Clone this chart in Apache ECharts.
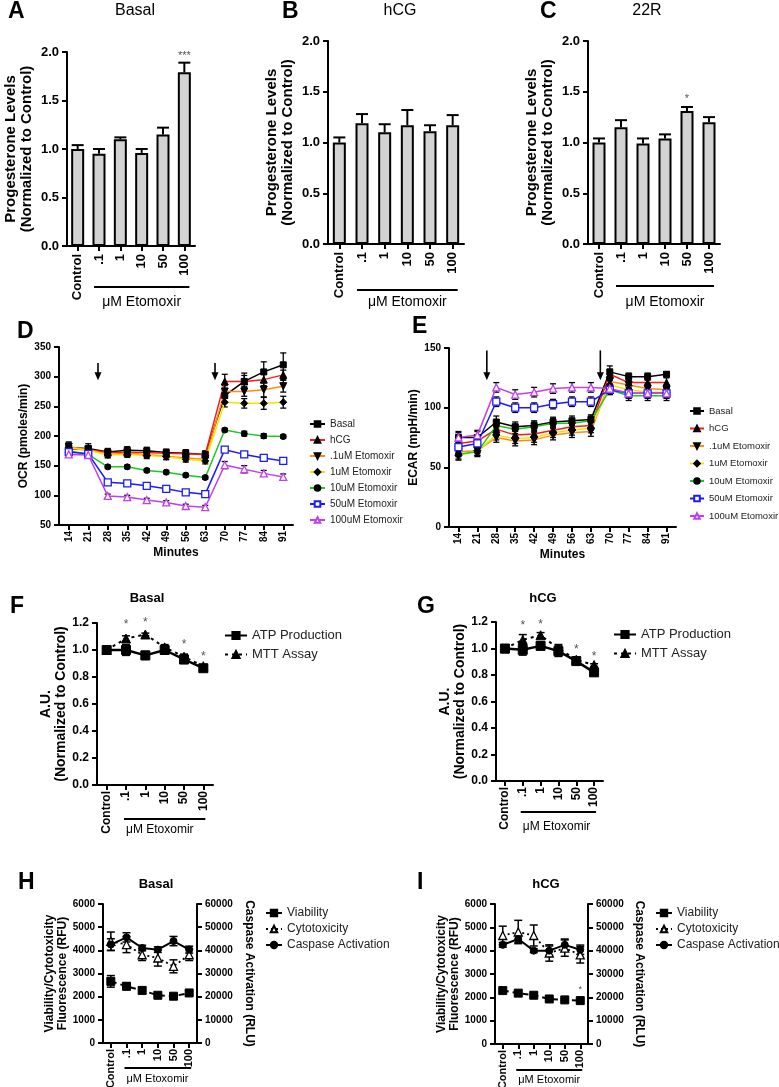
<!DOCTYPE html>
<html><head><meta charset="utf-8">
<script src="https://cdn.jsdelivr.net/npm/echarts@6/dist/echarts.min.js"></script>
<style>html,body{margin:0;padding:0;background:#fff}#c{width:779px;height:1087px}</style>
</head><body><div id="c"></div>
<script>
// ---------------- DATA ----------------
const doseCats = ['Control', '.1', '1', '10', '50', '100'];
const minutes = ['14','21','28','35','42','49','56','63','70','77','84','91'];

// Panels A-C: progesterone (normalized)
const basalProg    = [1.00, 0.95, 1.10, 0.96, 1.15, 1.79];
const basalProgErr = [0.04, 0.05, 0.02, 0.04, 0.07, 0.10];
const hcgProg      = [1.00, 1.19, 1.10, 1.17, 1.11, 1.17];
const hcgProgErr   = [0.05, 0.09, 0.08, 0.15, 0.06, 0.10];
const r22Prog      = [1.00, 1.15, 0.99, 1.04, 1.31, 1.20];
const r22ProgErr   = [0.04, 0.07, 0.05, 0.04, 0.04, 0.05];
const basalProgStars = [[5, 1.96]]; const basalProgStarText = ['***'];
const r22ProgStars   = [[4, 1.43]]; const r22ProgStarText   = ['*'];

// Panel D: OCR
const legendNames = ['Basal','hCG','.1uM Etomoxir','1uM Etomoxir','10uM Etomoxir','50uM Etomoxir','100uM Etomoxir'];
const ocrBasal = [180,179,173,176,175,172,171,169,268,292,308,320];
const ocrHcg   = [178,177,172,172,172,171,170,169,292,292,295,303];
const ocr01    = [182,177,169,171,169,166,163,161,275,275,278,284];
const ocr1     = [180,176,168,169,167,165,161,158,257,255,255,257];
const ocr10    = [175,169,148,148,142,139,134,130,210,204,200,199];
const ocr50    = [173,170,122,120,116,111,105,102,177,169,163,158];
const ocr100   = [169,168,99,97,92,88,82,80,151,144,137,131];
const ocrBasalErr = [10,8,6,6,6,6,6,6,12,14,17,20];
const ocrHcgErr   = [8,6,5,5,5,5,5,5,12,10,10,8];
const ocr01Err    = [6,5,5,5,5,5,5,5,10,8,12,10];
const ocr1Err     = [6,5,5,5,5,5,5,5,8,8,10,10];
const ocr10Err    = [5,4,3,3,3,3,3,3,3,4,4,3];
const ocr50Err    = [4,4,4,4,4,4,4,4,4,4,4,4];
const ocr100Err   = [3,3,3,3,3,3,3,3,6,6,5,5];
const ocrArrows = [[1, 323, 294], [7, 323, 294]];

// Panel E: ECAR
const ecarBasal = [75,75,88,84,85,88,89,90,130,126,126,128];
const ecarHcg   = [70,72,82,77,78,81,84,85,128,121,121,121];
const ecar01    = [63,64,75,72,73,77,79,80,122,119,116,115];
const ecar1     = [60,64,77,74,75,79,81,83,119,115,113,113];
const ecar10    = [61,63,85,82,84,87,87,89,115,110,110,110];
const ecar50    = [67,70,105,100,100,103,105,105,115,112,112,112];
const ecar100   = [75,77,117,111,113,116,117,117,116,112,112,112];
const ecarBasalErr = [5,5,5,4,4,4,4,4,5,3,3,2];
const ecarOtherErr = [4,4,4,4,4,4,4,4,4,4,4,4];
const ecarArrows = [[1, 148, 123], [7, 148, 123]];

// Panels F-G: ATP / MTT
const atpBasal    = [1.00, 1.00, 0.96, 1.00, 0.93, 0.865];
const atpBasalErr = [0, 0.04, 0.03, 0.02, 0.03, 0.01];
const mttBasal    = [1.00, 1.085, 1.115, 1.02, 0.95, 0.88];
const mttBasalErr = [0, 0.02, 0.01, 0.02, 0.02, 0.01];
const fStars = [[1, 1.19], [2, 1.20], [4, 1.04], [5, 0.95]];
const atpHcg      = [1.00, 0.99, 1.02, 0.98, 0.905, 0.82];
const atpHcgErr   = [0, 0.04, 0.03, 0.04, 0.02, 0.02];
const mttHcg      = [1.00, 1.065, 1.10, 1.00, 0.915, 0.875];
const mttHcgErr   = [0, 0.04, 0.02, 0.03, 0.02, 0.01];
const gStars = [[1, 1.17], [2, 1.18], [4, 0.99], [5, 0.94]];

// Panels H-I: viability / cytotoxicity (RFU), caspase (RLU)
const viabBasal = [2660, 2450, 2270, 2060, 2020, 2160];
const viabBasalErr = [250, 150, 130, 60, 50, 80];
const cytoBasal = [4390, 4250, 3810, 3670, 3310, 3810];
const cytoBasalErr = [400, 350, 250, 350, 280, 250];
const caspBasal = [42500, 45600, 41000, 40300, 44000, 40300];
const caspBasalErr = [2500, 2000, 1200, 1200, 2000, 1500];
const viabHcg = [2290, 2180, 2090, 1930, 1890, 1860];
const viabHcgErr = [80, 60, 50, 50, 40, 40];
const cytoHcg = [4650, 4800, 4650, 3900, 4110, 3820];
const cytoHcgErr = [400, 500, 450, 350, 350, 350];
const caspHcg = [42500, 45000, 40000, 40000, 42500, 40400];
const caspHcgErr = [1000, 1500, 800, 2000, 2500, 2000];
const iStars = [[5, 2350]];

// ---------------- BUILD ----------------
const FONT = "'Liberation Sans', Arial, sans-serif";
const NARROW = "'Liberation Sans Narrow', 'Liberation Sans', Arial, sans-serif";
const option = {animation:false, backgroundColor:'#fff', grid:[], xAxis:[], yAxis:[], series:[], legend:[]};

function addGrid(r){ option.grid.push(Object.assign({containLabel:false, outerBoundsMode:'none'}, r)); return option.grid.length-1; }
function lineAxis(lw){ return {show:true, onZero:false, lineStyle:{color:'#000', width:lw}}; }
function tickAxis(lw, len){ return {show:true, length:len||5, alignWithLabel:true, lineStyle:{color:'#000', width:lw}}; }

function catX(gi, cats, fs, family, lw, margin, extra){
  option.xAxis.push(Object.assign({type:'category', gridIndex:gi, data:cats, boundaryGap:true,
    axisLine:lineAxis(lw), axisTick:tickAxis(lw), splitLine:{show:false},
    axisLabel:{rotate:90, interval:0, color:'#000', fontFamily:family, fontSize:fs, fontWeight:'bold', margin:margin}}, extra||{}));
  return option.xAxis.length-1;
}
function valY(gi, min, max, interval, fs, family, lw, name, nameGap, nameFs, fmt, extra){
  option.yAxis.push(Object.assign({type:'value', gridIndex:gi, min:min, max:max, interval:interval,
    axisLine:lineAxis(lw), axisTick:tickAxis(lw), splitLine:{show:false},
    axisLabel:{color:'#000', fontFamily:family, fontSize:fs, fontWeight:'bold', margin:8, formatter:fmt},
    name:name, nameLocation:'middle', nameRotate:90, nameGap:nameGap,
    nameTextStyle:{color:'#000', fontFamily:FONT, fontWeight:'bold', fontSize:nameFs, lineHeight:nameFs+1}}, extra||{}));
  return option.yAxis.length-1;
}
function errSeries(xi, yi, vals, errs, upperOnly, cap, lw, color){
  const data = [];
  vals.forEach((v,i)=>{ if (errs[i] > 0) data.push([i, upperOnly ? v : v-errs[i], v+errs[i]]); });
  return {type:'custom', xAxisIndex:xi, yAxisIndex:yi, silent:true, z:upperOnly?3:1, data:data, encode:{x:0, y:[1,2]},
    renderItem:function(params, api){
      const i = api.value(0);
      const p1 = api.coord([i, api.value(1)]);
      const p2 = api.coord([i, api.value(2)]);
      const ch = [
        {type:'line', shape:{x1:p1[0], y1:p1[1], x2:p2[0], y2:p2[1]}, style:{stroke:color, lineWidth:lw}},
        {type:'line', shape:{x1:p2[0]-cap, y1:p2[1], x2:p2[0]+cap, y2:p2[1]}, style:{stroke:color, lineWidth:lw}}
      ];
      if (!upperOnly) ch.push({type:'line', shape:{x1:p1[0]-cap, y1:p1[1], x2:p1[0]+cap, y2:p1[1]}, style:{stroke:color, lineWidth:lw}});
      return {type:'group', children:ch};
    }};
}
function starSeries(xi, yi, pts, texts, fs){
  return {type:'custom', xAxisIndex:xi, yAxisIndex:yi, silent:true, z:5, data:pts,
    renderItem:function(params, api){
      const p = api.coord([api.value(0), api.value(1)]);
      return {type:'text', x:p[0], y:p[1], style:{text:texts[params.dataIndex], fill:'#555', align:'center', verticalAlign:'middle', font:fs+'px '+FONT}};
    }};
}
function arrowSeries(xi, yi, arrows){
  return {type:'custom', xAxisIndex:xi, yAxisIndex:yi, silent:true, z:5, data:arrows,
    renderItem:function(params, api){
      const i = api.value(0);
      const a = api.coord([i, api.value(1)]);
      const b = api.coord([i+1, api.value(1)]);
      const t = api.coord([i, api.value(2)]);
      const x = (a[0]+b[0])/2, y1 = a[1], y2 = t[1];
      return {type:'group', children:[
        {type:'line', shape:{x1:x, y1:y1, x2:x, y2:y2-6}, style:{stroke:'#000', lineWidth:1.6}},
        {type:'polygon', shape:{points:[[x-3.5, y2-8],[x+3.5, y2-8],[x, y2]]}, style:{fill:'#000'}}
      ]};
    }};
}
function lineSeries(name, xi, yi, vals, o){
  return {type:'line', name:name, xAxisIndex:xi, yAxisIndex:yi, data:vals, z:3, silent:true,
    symbol:o.symbol, symbolSize:o.size, showSymbol:true,
    itemStyle:{color:o.fill, borderColor:o.border||o.fill, borderWidth:o.bw||1},
    lineStyle:{color:o.line, width:o.lw, type:o.type||'solid'}};
}

// ----- Bar panels A, B, C -----
function barPanel(rect, vals, errs, nameGap){
  const gi = addGrid(rect);
  const xi = catX(gi, doseCats, 13, FONT, 2, 8);
  const yi = valY(gi, 0, 2, 0.5, 13, FONT, 2, 'Progesterone Levels\n(Normalized to Control)', nameGap, 15, v=>v.toFixed(1));
  option.series.push({type:'bar', xAxisIndex:xi, yAxisIndex:yi, data:vals, barWidth:13, silent:true, z:2,
    itemStyle:{color:'#d3d3d3', borderColor:'#000', borderWidth:2}});
  option.series.push(errSeries(xi, yi, vals, errs, true, 6, 2, '#000'));
  return {xi, yi};
}
const pA = barPanel({left:67, top:52, width:128, height:194}, basalProg, basalProgErr, 32);
option.series.push(starSeries(pA.xi, pA.yi, basalProgStars, basalProgStarText, 11));
const pB = barPanel({left:328, top:41, width:136, height:203}, hcgProg, hcgProgErr, 32);
const pC = barPanel({left:588, top:41, width:132, height:203}, r22Prog, r22ProgErr, 32);
option.series.push(starSeries(pC.xi, pC.yi, r22ProgStars, r22ProgStarText, 11));

// ----- D / E seahorse panels -----
const seaStyles = [
  {symbol:'rect', size:6, fill:'#000', line:'#000', lw:1.5},
  {symbol:'triangle', size:7, fill:'#000', line:'#ff1a1a', lw:1.5},
  {symbol:'path://M0,0 L10,0 L5,9 Z', size:7, fill:'#000', line:'#ff8c1a', lw:1.5},
  {symbol:'diamond', size:7, fill:'#000', line:'#f5e400', lw:1.5},
  {symbol:'circle', size:6, fill:'#000', line:'#1ec81e', lw:1.5},
  {symbol:'rect', size:7, fill:'#fff', border:'#1a1aff', bw:1.3, line:'#1a1aff', lw:1.5},
  {symbol:'triangle', size:7, fill:'#fff', border:'#c040f0', bw:1.3, line:'#c040f0', lw:1.5}
];
function seaPanel(rect, series, errs, min, max, interval, yName, nameGap, arrows, legendPos, legendGap, legendFs, iconW){
  const gi = addGrid(rect);
  const xi = catX(gi, minutes, 10, NARROW, 2, 6, {name:'Minutes', nameLocation:'middle', nameGap:22,
    nameTextStyle:{color:'#000', fontFamily:NARROW, fontWeight:'bold', fontSize:12}});
  const yi = valY(gi, min, max, interval, 10, NARROW, 2, yName, nameGap, 12, v=>String(v));
  series.forEach((vals, k)=>{
    option.series.push(errSeries(xi, yi, vals, errs[k], false, 3, 1.3, '#000'));
    option.series.push(lineSeries(legendNames[k], xi, yi, vals, seaStyles[k]));
  });
  option.series.push(arrowSeries(xi, yi, arrows));
  option.legend.push({orient:'vertical', left:legendPos[0], top:legendPos[1], itemWidth:iconW, itemHeight:7, itemGap:legendGap,
    padding:0, selectedMode:false, textStyle:{fontFamily:FONT, fontSize:legendFs, color:'#222', padding:[0,0,0,0]}, data:legendNames});
  return {xi, yi};
}
seaPanel({left:59, top:347, width:234, height:178}, [ocrBasal, ocrHcg, ocr01, ocr1, ocr10, ocr50, ocr100],
  [ocrBasalErr, ocrHcgErr, ocr01Err, ocr1Err, ocr10Err, ocr50Err, ocr100Err], 50, 350, 50, 'OCR (pmoles/min)', 17, ocrArrows, [309, 419], 6, 10, 15);
seaPanel({left:449, top:348, width:227, height:179}, [ecarBasal, ecarHcg, ecar01, ecar1, ecar10, ecar50, ecar100],
  [ecarBasalErr, ecarOtherErr, ecarOtherErr, ecarOtherErr, ecarOtherErr, ecarOtherErr, ecarOtherErr], 0, 150, 50, 'ECAR (mpH/min)', 22, ecarArrows, [689, 406], 7.5, 9.5, 14);

// ----- F / G -----
function atpPanel(rect, atp, atpErr, mtt, mttErr, stars, nameGap, legendPos){
  const gi = addGrid(rect);
  const xi = catX(gi, doseCats, 12, FONT, 2, 6);
  const yi = valY(gi, 0, 1.2, 0.2, 12, FONT, 2, 'A.U.\n(Normalized to Control)', nameGap, 14, v=>v.toFixed(1));
  option.series.push(errSeries(xi, yi, mtt, mttErr, false, 4, 1.5, '#000'));
  option.series.push(errSeries(xi, yi, atp, atpErr, false, 4, 1.5, '#000'));
  option.series.push(lineSeries('MTT Assay', xi, yi, mtt, {symbol:'triangle', size:9, fill:'#000', line:'#000', lw:2, type:[3,4]}));
  option.series.push(lineSeries('ATP Production', xi, yi, atp, {symbol:'rect', size:9, fill:'#000', line:'#000', lw:2.5}));
  option.series.push(starSeries(xi, yi, stars, stars.map(()=>'*'), 12));
  option.legend.push({orient:'vertical', left:legendPos[0], top:legendPos[1], itemWidth:22, itemHeight:9, itemGap:6,
    selectedMode:false, textStyle:{fontFamily:FONT, fontSize:13, color:'#222'}, data:['ATP Production','MTT Assay']});
}
atpPanel({left:97, top:623, width:116, height:162}, atpBasal, atpBasalErr, mttBasal, mttBasalErr, fStars, 27, [219, 624]);
atpPanel({left:496, top:622, width:107, height:159}, atpHcg, atpHcgErr, mttHcg, mttHcgErr, gStars, 25, [608, 623]);

// ----- H / I -----
function cellPanel(rect, viab, viabErr, cyto, cytoErr, casp, caspErr, stars, nameGapL, nameGapR, legendPos){
  const gi = addGrid(rect);
  const xi = catX(gi, doseCats, 11, FONT, 2, 6);
  const yl = valY(gi, 0, 6000, 1000, 10, FONT, 2, 'Viability/Cytotoxicity\nFluorescence (RFU)', nameGapL, 12, v=>String(v));
  const yr = valY(gi, 0, 60000, 10000, 10, FONT, 2, 'Caspase Activation (RLU)', nameGapR, 12, v=>String(v), {position:'right', nameRotate:-90});
  option.series.push(errSeries(xi, yl, cyto, cytoErr, false, 4, 1.5, '#000'));
  option.series.push(errSeries(xi, yr, casp, caspErr, false, 4, 1.5, '#000'));
  option.series.push(errSeries(xi, yl, viab, viabErr, false, 4, 1.5, '#000'));
  option.series.push(lineSeries('Viability', xi, yl, viab, {symbol:'rect', size:8, fill:'#000', line:'#000', lw:2, type:[6,4]}));
  option.series.push(lineSeries('Cytotoxicity', xi, yl, cyto, {symbol:'triangle', size:8, fill:'#fff', border:'#000', bw:1.3, line:'#000', lw:1.8, type:[2,3]}));
  option.series.push(lineSeries('Caspase Activation', xi, yr, casp, {symbol:'circle', size:7, fill:'#000', line:'#000', lw:2}));
  if (stars) option.series.push(starSeries(xi, yl, stars, stars.map(()=>'*'), 9));
  option.legend.push({orient:'vertical', left:legendPos[0], top:legendPos[1], itemWidth:16, itemHeight:8, itemGap:4,
    padding:0, selectedMode:false, textStyle:{fontFamily:FONT, fontSize:12, color:'#222'}, data:['Viability','Cytotoxicity','Caspase Activation']});
}
cellPanel({left:103, top:904, width:94, height:139}, viabBasal, viabBasalErr, cytoBasal, cytoBasalErr, caspBasal, caspBasalErr, null, 31, 46, [265, 907]);
cellPanel({left:495, top:904, width:93, height:140}, viabHcg, viabHcgErr, cytoHcg, cytoHcgErr, caspHcg, caspHcgErr, iStars, 33, 45, [655, 907]);

const chart = echarts.init(document.getElementById('c'), null, {renderer:'canvas', width:779, height:1087});
chart.setOption(option);

// ----- annotations (letters, titles, dose underlines) -----
function txt(x, y, text, font, align){
  return {type:'text', x:x, y:y, silent:true, style:{text:text, font:font, fill:'#000', align:align||'center', verticalAlign:'middle'}};
}
const G = [];
const LET = 'bold 23px ' + FONT;
[['A',8,12],['B',282,12],['C',540,12],['D',17,332],['E',412,327],['F',10,607],['G',417,607],['H',18,883],['I',417,883]]
  .forEach(l=>G.push(txt(l[1], l[2], l[0], LET, 'left')));
G.push(txt(135, 11, 'Basal', '16px '+FONT));
G.push(txt(400, 11, 'hCG', '16px '+FONT));
G.push(txt(647, 11, '22R', '16px '+FONT));
G.push(txt(147, 598, 'Basal', 'bold 13px '+FONT));
G.push(txt(543, 598, 'hCG', 'bold 13px '+FONT));
G.push(txt(156, 884, 'Basal', 'bold 13px '+FONT));
G.push(txt(546, 884, 'hCG', 'bold 13px '+FONT));
function underline(xi, y, pad, label, ty, font, centered){
  const x1 = chart.convertToPixel({xAxisIndex:xi}, '.1') - pad;
  const x2 = chart.convertToPixel({xAxisIndex:xi}, '100') + pad;
  G.push({type:'line', silent:true, shape:{x1:x1, y1:y, x2:x2, y2:y}, style:{stroke:'#000', lineWidth:2}});
  G.push(centered ? txt((x1+x2)/2, ty, label, font) : txt(x1+2, ty, label, font, 'left'));
}
underline(pA.xi, 287, 5, 'μM Etomoxir', 302, '14px '+FONT, true);
underline(pB.xi, 290, 5, 'μM Etomoxir', 302, '14px '+FONT, true);
underline(pC.xi, 286, 5, 'μM Etomoxir', 302, '14px '+FONT, true);
// xAxis indices: A0 B1 C2 D3 E4 F5 G6 H7 I8
underline(5, 819, 2, 'μM Etoxomir', 830, '12px '+FONT, false);
underline(6, 812, 2, 'μM Etoxomir', 827, '12px '+FONT, false);
underline(7, 1068, 2, 'μM Etoxomir', 1079, '11px '+FONT, false);
underline(8, 1070, 2, 'μM Etoxomir', 1080, '11px '+FONT, false);
chart.setOption({graphic: G});
</script></body></html>
